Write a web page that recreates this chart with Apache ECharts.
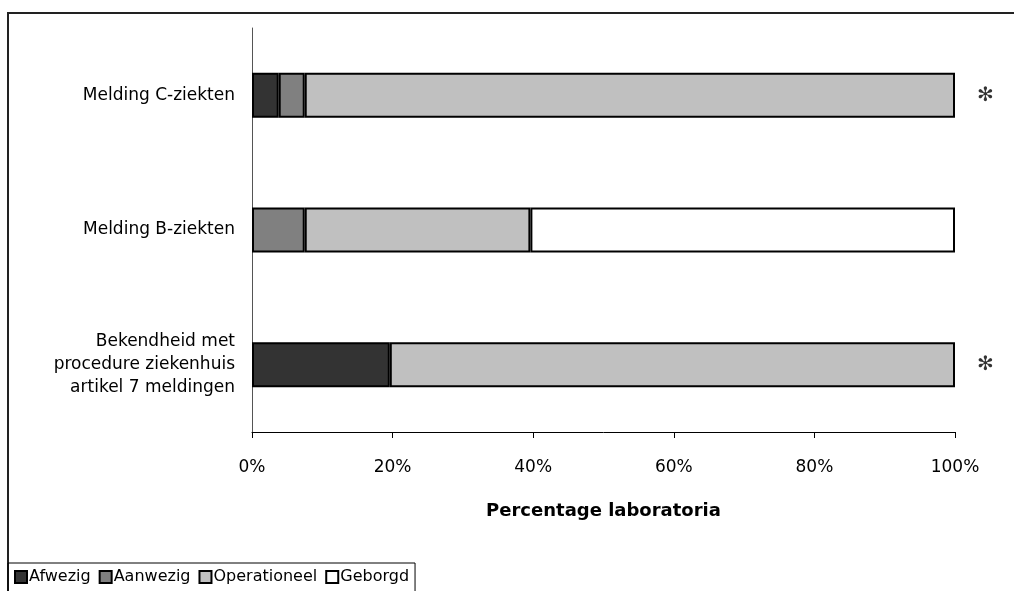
<!DOCTYPE html>
<html>
<head>
<meta charset="utf-8">
<script src="https://cdn.jsdelivr.net/npm/echarts@6/dist/echarts.min.js"></script>
<style>
  html, body { margin: 0; padding: 0; background: #fff; }
  #chart { width: 1014px; height: 591px; }
</style>
</head>
<body>
<div id="chart"></div>
<script>
// Categories, top to bottom
const categories = [
  'Melding C-ziekten',
  'Melding B-ziekten',
  'Bekendheid met\nprocedure ziekenhuis\nartikel 7 meldingen'
];
// Percentage of laboratories per level
const afwezig      = [3.8, 0, 19.6];
const aanwezig     = [3.7, 7.5, 0];
const operationeel = [92.5, 32.1, 80.4];
const geborgd      = [0, 60.4, 0];
// Significance markers per category
const notes = ['✻', '', '✻'];
const xTicks = { min: 0, max: 100, interval: 20 };

const seriesNames = ['Afwezig', 'Aanwezig', 'Operationeel', 'Geborgd'];
const seriesColors = ['#333333', '#808080', '#c0c0c0', '#ffffff'];
const seriesData = [afwezig, aanwezig, operationeel, geborgd];

const FONT = '"DejaVu Sans", sans-serif';

const chart = echarts.init(document.getElementById('chart'));

// empty segments are skipped so they draw no border
const barSeries = seriesNames.map((name, i) => ({
  name,
  type: 'bar',
  stack: 'total',
  barWidth: 45,
  data: seriesData[i].map(v => (v > 0 ? v : '-')),
  itemStyle: { color: seriesColors[i], borderColor: '#000', borderWidth: 2 },
  emphasis: { disabled: true }
}));

const noteSeries = {
  type: 'scatter',
  symbolSize: 0,
  silent: true,
  data: categories.map((c, i) => [xTicks.max, i, notes[i]]),
  label: {
    show: true,
    position: 'right',
    distance: 22,
    formatter: p => p.data[2],
    fontFamily: '"DejaVu Sans", sans-serif',
    fontWeight: 'bold',
    fontSize: 20,
    color: '#000'
  }
};

chart.setOption({
  animation: false,
  backgroundColor: '#fff',
  textStyle: { fontFamily: FONT },
  graphic: [{
    type: 'rect',
    shape: { x: 8, y: 13, width: 1030, height: 600 },
    style: { fill: 'none', stroke: '#222', lineWidth: 2 },
    silent: true,
    z: -1
  }],
  grid: { left: 252, right: 59, top: 28, bottom: 159 },
  legend: {
    data: seriesNames,
    left: 8,
    top: 563,
    orient: 'horizontal',
    borderColor: '#000',
    borderWidth: 1,
    padding: [6, 6, 8, 6],
    itemGap: 8,
    itemWidth: 12,
    itemHeight: 12,
    icon: 'rect',
    textStyle: { fontFamily: FONT, fontSize: 16, color: '#000', padding: [0, 0, 0, -3] },
    selectedMode: false
  },
  xAxis: {
    type: 'value',
    min: xTicks.min,
    max: xTicks.max,
    interval: xTicks.interval,
    name: 'Percentage laboratoria',
    nameLocation: 'middle',
    nameGap: 70,
    nameTextStyle: { fontFamily: FONT, fontSize: 18, fontWeight: 'bold', color: '#000' },
    axisLine: { show: true, lineStyle: { color: '#000', width: 1 } },
    axisTick: { show: true, length: 6, lineStyle: { color: '#000' } },
    axisLabel: { formatter: '{value}%', fontSize: 17, color: '#000', margin: 27, fontFamily: FONT },
    splitLine: { show: false }
  },
  yAxis: {
    type: 'category',
    inverse: true,
    data: categories,
    axisLine: { show: true, lineStyle: { color: '#555', width: 1 } },
    axisTick: { show: false },
    axisLabel: { fontSize: 17, color: '#000', margin: 17, lineHeight: 23, align: 'right', fontFamily: FONT }
  },
  series: [...barSeries, noteSeries]
});
</script>
</body>
</html>
